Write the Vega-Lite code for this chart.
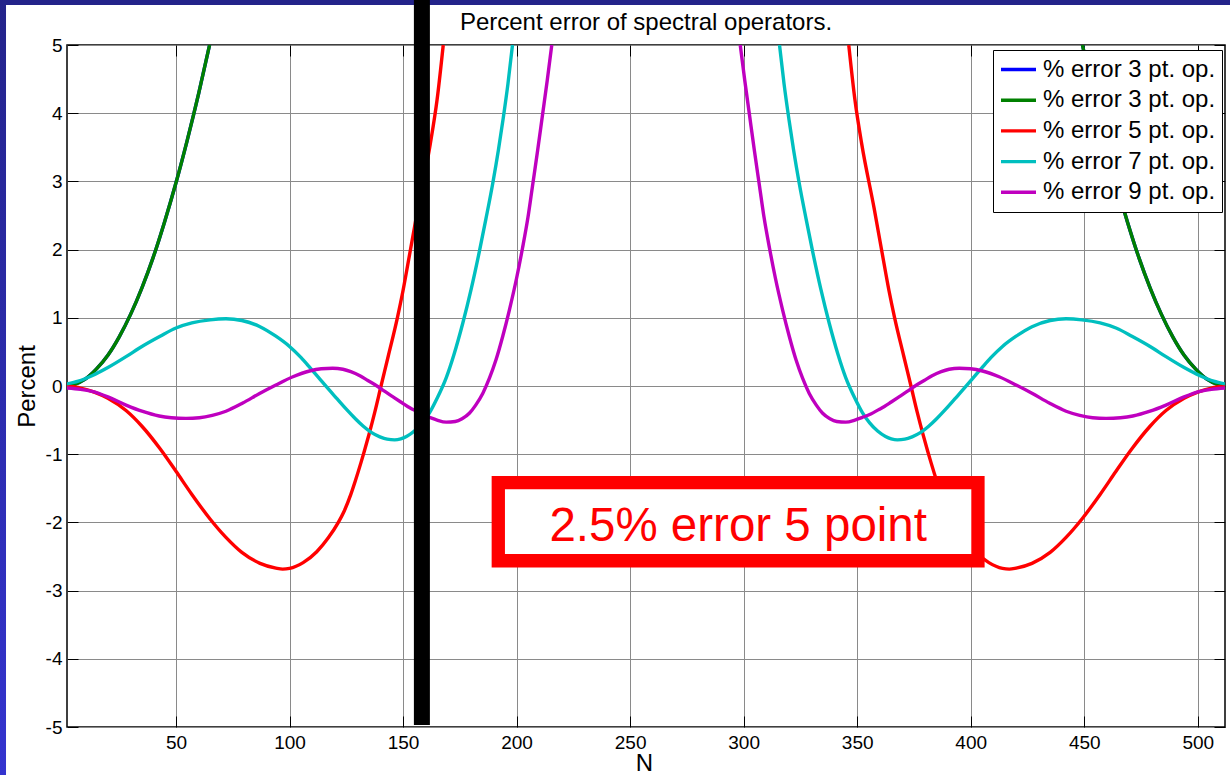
{
"$schema":"https://vega.github.io/schema/vega-lite/v6.json",
"width":1158,"height":682,
"autosize":{"type":"none"},
"padding":{"left":67,"top":45,"right":5,"bottom":48},
"background":"white",
"config":{"view":{"stroke":"black","strokeWidth":1.5},"font":"Liberation Sans"},
"datasets":{
"curves":[
{"s":"a","p":"L","n":2,"v":0},{"s":"a","p":"L","n":5,"v":0.02},{"s":"a","p":"L","n":10,"v":0.1},{"s":"a","p":"L","n":15,"v":0.25},{"s":"a","p":"L","n":20,"v":0.45},{"s":"a","p":"L","n":25,"v":0.72},{"s":"a","p":"L","n":30,"v":1.05},{"s":"a","p":"L","n":35,"v":1.44},{"s":"a","p":"L","n":40,"v":1.89},{"s":"a","p":"L","n":45,"v":2.41},{"s":"a","p":"L","n":50,"v":2.98},{"s":"a","p":"L","n":55,"v":3.61},{"s":"a","p":"L","n":60,"v":4.29},{"s":"a","p":"L","n":64.8,"v":5},
{"s":"a","p":"R","n":512,"v":0},{"s":"a","p":"R","n":509,"v":0.02},{"s":"a","p":"R","n":504,"v":0.1},{"s":"a","p":"R","n":499,"v":0.25},{"s":"a","p":"R","n":494,"v":0.45},{"s":"a","p":"R","n":489,"v":0.72},{"s":"a","p":"R","n":484,"v":1.05},{"s":"a","p":"R","n":479,"v":1.44},{"s":"a","p":"R","n":474,"v":1.89},{"s":"a","p":"R","n":469,"v":2.41},{"s":"a","p":"R","n":464,"v":2.98},{"s":"a","p":"R","n":459,"v":3.61},{"s":"a","p":"R","n":454,"v":4.29},{"s":"a","p":"R","n":449.2,"v":5},
{"s":"b","p":"L","n":2,"v":0},{"s":"b","p":"L","n":5,"v":0.02},{"s":"b","p":"L","n":10,"v":0.1},{"s":"b","p":"L","n":15,"v":0.25},{"s":"b","p":"L","n":20,"v":0.45},{"s":"b","p":"L","n":25,"v":0.72},{"s":"b","p":"L","n":30,"v":1.05},{"s":"b","p":"L","n":35,"v":1.44},{"s":"b","p":"L","n":40,"v":1.89},{"s":"b","p":"L","n":45,"v":2.41},{"s":"b","p":"L","n":50,"v":2.98},{"s":"b","p":"L","n":55,"v":3.61},{"s":"b","p":"L","n":60,"v":4.29},{"s":"b","p":"L","n":64.8,"v":5},
{"s":"b","p":"R","n":512,"v":0},{"s":"b","p":"R","n":509,"v":0.02},{"s":"b","p":"R","n":504,"v":0.1},{"s":"b","p":"R","n":499,"v":0.25},{"s":"b","p":"R","n":494,"v":0.45},{"s":"b","p":"R","n":489,"v":0.72},{"s":"b","p":"R","n":484,"v":1.05},{"s":"b","p":"R","n":479,"v":1.44},{"s":"b","p":"R","n":474,"v":1.89},{"s":"b","p":"R","n":469,"v":2.41},{"s":"b","p":"R","n":464,"v":2.98},{"s":"b","p":"R","n":459,"v":3.61},{"s":"b","p":"R","n":454,"v":4.29},{"s":"b","p":"R","n":449.2,"v":5},
{"s":"c","p":"L","n":2,"v":0},{"s":"c","p":"L","n":8,"v":-0.03},{"s":"c","p":"L","n":14,"v":-0.09},{"s":"c","p":"L","n":20,"v":-0.18},{"s":"c","p":"L","n":28,"v":-0.36},{"s":"c","p":"L","n":35,"v":-0.59},{"s":"c","p":"L","n":43,"v":-0.92},{"s":"c","p":"L","n":50,"v":-1.25},{"s":"c","p":"L","n":57,"v":-1.59},{"s":"c","p":"L","n":65,"v":-1.95},{"s":"c","p":"L","n":72,"v":-2.22},{"s":"c","p":"L","n":79,"v":-2.44},{"s":"c","p":"L","n":87,"v":-2.6},{"s":"c","p":"L","n":94,"v":-2.67},{"s":"c","p":"L","n":97,"v":-2.685},{"s":"c","p":"L","n":100,"v":-2.675},{"s":"c","p":"L","n":106,"v":-2.59},{"s":"c","p":"L","n":112,"v":-2.43},{"s":"c","p":"L","n":117,"v":-2.23},{"s":"c","p":"L","n":121.5,"v":-2},{"s":"c","p":"L","n":124,"v":-1.84},{"s":"c","p":"L","n":127,"v":-1.59},{"s":"c","p":"L","n":129,"v":-1.39},{"s":"c","p":"L","n":131.5,"v":-1.12},{"s":"c","p":"L","n":133,"v":-0.95},{"s":"c","p":"L","n":135,"v":-0.71},{"s":"c","p":"L","n":137.5,"v":-0.39},{"s":"c","p":"L","n":140.3,"v":0},{"s":"c","p":"L","n":143.5,"v":0.44},{"s":"c","p":"L","n":147.5,"v":1},{"s":"c","p":"L","n":150,"v":1.4},{"s":"c","p":"L","n":153,"v":1.95},{"s":"c","p":"L","n":156.5,"v":2.6},{"s":"c","p":"L","n":162,"v":3.55},{"s":"c","p":"L","n":165,"v":4.2},{"s":"c","p":"L","n":167.7,"v":5},
{"s":"c","p":"R","n":512,"v":0},{"s":"c","p":"R","n":506,"v":-0.03},{"s":"c","p":"R","n":500,"v":-0.09},{"s":"c","p":"R","n":494,"v":-0.18},{"s":"c","p":"R","n":486,"v":-0.36},{"s":"c","p":"R","n":479,"v":-0.59},{"s":"c","p":"R","n":471,"v":-0.92},{"s":"c","p":"R","n":464,"v":-1.25},{"s":"c","p":"R","n":457,"v":-1.59},{"s":"c","p":"R","n":449,"v":-1.95},{"s":"c","p":"R","n":442,"v":-2.22},{"s":"c","p":"R","n":435,"v":-2.44},{"s":"c","p":"R","n":427,"v":-2.6},{"s":"c","p":"R","n":420,"v":-2.67},{"s":"c","p":"R","n":417,"v":-2.685},{"s":"c","p":"R","n":414,"v":-2.675},{"s":"c","p":"R","n":408,"v":-2.59},{"s":"c","p":"R","n":402,"v":-2.43},{"s":"c","p":"R","n":397,"v":-2.23},{"s":"c","p":"R","n":392.5,"v":-2},{"s":"c","p":"R","n":390,"v":-1.84},{"s":"c","p":"R","n":387,"v":-1.59},{"s":"c","p":"R","n":385,"v":-1.39},{"s":"c","p":"R","n":382.5,"v":-1.12},{"s":"c","p":"R","n":381,"v":-0.95},{"s":"c","p":"R","n":379,"v":-0.71},{"s":"c","p":"R","n":376.5,"v":-0.39},{"s":"c","p":"R","n":373.7,"v":0},{"s":"c","p":"R","n":370.5,"v":0.44},{"s":"c","p":"R","n":366.5,"v":1},{"s":"c","p":"R","n":364,"v":1.4},{"s":"c","p":"R","n":361,"v":1.95},{"s":"c","p":"R","n":357.5,"v":2.6},{"s":"c","p":"R","n":352,"v":3.55},{"s":"c","p":"R","n":349,"v":4.2},{"s":"c","p":"R","n":346.3,"v":5},
{"s":"d","p":"L","n":2,"v":0.03},{"s":"d","p":"L","n":7,"v":0.07},{"s":"d","p":"L","n":13,"v":0.15},{"s":"d","p":"L","n":20,"v":0.27},{"s":"d","p":"L","n":28,"v":0.43},{"s":"d","p":"L","n":35,"v":0.58},{"s":"d","p":"L","n":43,"v":0.73},{"s":"d","p":"L","n":50,"v":0.85},{"s":"d","p":"L","n":57,"v":0.925},{"s":"d","p":"L","n":65,"v":0.97},{"s":"d","p":"L","n":72,"v":0.985},{"s":"d","p":"L","n":79,"v":0.96},{"s":"d","p":"L","n":87,"v":0.87},{"s":"d","p":"L","n":94,"v":0.73},{"s":"d","p":"L","n":100,"v":0.58},{"s":"d","p":"L","n":105,"v":0.42},{"s":"d","p":"L","n":109,"v":0.27},{"s":"d","p":"L","n":113,"v":0.115},{"s":"d","p":"L","n":117,"v":-0.04},{"s":"d","p":"L","n":121,"v":-0.19},{"s":"d","p":"L","n":125,"v":-0.34},{"s":"d","p":"L","n":129,"v":-0.48},{"s":"d","p":"L","n":132.5,"v":-0.59},{"s":"d","p":"L","n":136,"v":-0.68},{"s":"d","p":"L","n":139.8,"v":-0.745},{"s":"d","p":"L","n":143,"v":-0.78},{"s":"d","p":"L","n":146.3,"v":-0.79},{"s":"d","p":"L","n":149,"v":-0.775},{"s":"d","p":"L","n":151.5,"v":-0.74},{"s":"d","p":"L","n":155,"v":-0.66},{"s":"d","p":"L","n":158.5,"v":-0.54},{"s":"d","p":"L","n":161.7,"v":-0.39},{"s":"d","p":"L","n":165,"v":-0.18},{"s":"d","p":"L","n":169,"v":0.12},{"s":"d","p":"L","n":172.5,"v":0.47},{"s":"d","p":"L","n":176.3,"v":0.92},{"s":"d","p":"L","n":180,"v":1.42},{"s":"d","p":"L","n":183.6,"v":1.97},{"s":"d","p":"L","n":186.5,"v":2.45},{"s":"d","p":"L","n":189.5,"v":2.97},{"s":"d","p":"L","n":192,"v":3.46},{"s":"d","p":"L","n":194,"v":3.9},{"s":"d","p":"L","n":196.2,"v":4.43},{"s":"d","p":"L","n":198.2,"v":5},
{"s":"d","p":"R","n":512,"v":0.03},{"s":"d","p":"R","n":507,"v":0.07},{"s":"d","p":"R","n":501,"v":0.15},{"s":"d","p":"R","n":494,"v":0.27},{"s":"d","p":"R","n":486,"v":0.43},{"s":"d","p":"R","n":479,"v":0.58},{"s":"d","p":"R","n":471,"v":0.73},{"s":"d","p":"R","n":464,"v":0.85},{"s":"d","p":"R","n":457,"v":0.925},{"s":"d","p":"R","n":449,"v":0.97},{"s":"d","p":"R","n":442,"v":0.985},{"s":"d","p":"R","n":435,"v":0.96},{"s":"d","p":"R","n":427,"v":0.87},{"s":"d","p":"R","n":420,"v":0.73},{"s":"d","p":"R","n":414,"v":0.58},{"s":"d","p":"R","n":409,"v":0.42},{"s":"d","p":"R","n":405,"v":0.27},{"s":"d","p":"R","n":401,"v":0.115},{"s":"d","p":"R","n":397,"v":-0.04},{"s":"d","p":"R","n":393,"v":-0.19},{"s":"d","p":"R","n":389,"v":-0.34},{"s":"d","p":"R","n":385,"v":-0.48},{"s":"d","p":"R","n":381.5,"v":-0.59},{"s":"d","p":"R","n":378,"v":-0.68},{"s":"d","p":"R","n":374.2,"v":-0.745},{"s":"d","p":"R","n":371,"v":-0.78},{"s":"d","p":"R","n":367.7,"v":-0.79},{"s":"d","p":"R","n":365,"v":-0.775},{"s":"d","p":"R","n":362.5,"v":-0.74},{"s":"d","p":"R","n":359,"v":-0.66},{"s":"d","p":"R","n":355.5,"v":-0.54},{"s":"d","p":"R","n":352.3,"v":-0.39},{"s":"d","p":"R","n":349,"v":-0.18},{"s":"d","p":"R","n":345,"v":0.12},{"s":"d","p":"R","n":341.5,"v":0.47},{"s":"d","p":"R","n":337.7,"v":0.92},{"s":"d","p":"R","n":334,"v":1.42},{"s":"d","p":"R","n":330.4,"v":1.97},{"s":"d","p":"R","n":327.5,"v":2.45},{"s":"d","p":"R","n":324.5,"v":2.97},{"s":"d","p":"R","n":322,"v":3.46},{"s":"d","p":"R","n":320,"v":3.9},{"s":"d","p":"R","n":317.8,"v":4.43},{"s":"d","p":"R","n":315.8,"v":5},
{"s":"e","p":"L","n":2,"v":-0.03},{"s":"e","p":"L","n":8,"v":-0.05},{"s":"e","p":"L","n":13,"v":-0.08},{"s":"e","p":"L","n":20,"v":-0.16},{"s":"e","p":"L","n":28,"v":-0.28},{"s":"e","p":"L","n":35,"v":-0.37},{"s":"e","p":"L","n":42.6,"v":-0.44},{"s":"e","p":"L","n":48,"v":-0.465},{"s":"e","p":"L","n":54.4,"v":-0.475},{"s":"e","p":"L","n":60.3,"v":-0.465},{"s":"e","p":"L","n":66,"v":-0.43},{"s":"e","p":"L","n":72,"v":-0.37},{"s":"e","p":"L","n":79.4,"v":-0.25},{"s":"e","p":"L","n":86.8,"v":-0.11},{"s":"e","p":"L","n":94,"v":0.015},{"s":"e","p":"L","n":101.5,"v":0.135},{"s":"e","p":"L","n":108.8,"v":0.22},{"s":"e","p":"L","n":114,"v":0.252},{"s":"e","p":"L","n":119,"v":0.26},{"s":"e","p":"L","n":123.5,"v":0.245},{"s":"e","p":"L","n":127,"v":0.21},{"s":"e","p":"L","n":131,"v":0.15},{"s":"e","p":"L","n":134.5,"v":0.08},{"s":"e","p":"L","n":138.5,"v":0},{"s":"e","p":"L","n":142,"v":-0.08},{"s":"e","p":"L","n":145.6,"v":-0.16},{"s":"e","p":"L","n":149,"v":-0.235},{"s":"e","p":"L","n":152,"v":-0.3},{"s":"e","p":"L","n":154.7,"v":-0.35},{"s":"e","p":"L","n":158,"v":-0.41},{"s":"e","p":"L","n":161.7,"v":-0.46},{"s":"e","p":"L","n":165,"v":-0.5},{"s":"e","p":"L","n":169,"v":-0.53},{"s":"e","p":"L","n":173,"v":-0.52},{"s":"e","p":"L","n":176,"v":-0.48},{"s":"e","p":"L","n":179.2,"v":-0.4},{"s":"e","p":"L","n":182,"v":-0.28},{"s":"e","p":"L","n":185.1,"v":-0.11},{"s":"e","p":"L","n":188,"v":0.11},{"s":"e","p":"L","n":190.9,"v":0.38},{"s":"e","p":"L","n":194,"v":0.74},{"s":"e","p":"L","n":196.8,"v":1.11},{"s":"e","p":"L","n":200,"v":1.58},{"s":"e","p":"L","n":202.6,"v":2.02},{"s":"e","p":"L","n":205,"v":2.47},{"s":"e","p":"L","n":207,"v":2.93},{"s":"e","p":"L","n":209.3,"v":3.46},{"s":"e","p":"L","n":211.4,"v":3.97},{"s":"e","p":"L","n":213.5,"v":4.48},{"s":"e","p":"L","n":215.5,"v":5},
{"s":"e","p":"R","n":512,"v":-0.03},{"s":"e","p":"R","n":506,"v":-0.05},{"s":"e","p":"R","n":501,"v":-0.08},{"s":"e","p":"R","n":494,"v":-0.16},{"s":"e","p":"R","n":486,"v":-0.28},{"s":"e","p":"R","n":479,"v":-0.37},{"s":"e","p":"R","n":471.4,"v":-0.44},{"s":"e","p":"R","n":466,"v":-0.465},{"s":"e","p":"R","n":459.6,"v":-0.475},{"s":"e","p":"R","n":453.7,"v":-0.465},{"s":"e","p":"R","n":448,"v":-0.43},{"s":"e","p":"R","n":442,"v":-0.37},{"s":"e","p":"R","n":434.6,"v":-0.25},{"s":"e","p":"R","n":427.2,"v":-0.11},{"s":"e","p":"R","n":420,"v":0.015},{"s":"e","p":"R","n":412.5,"v":0.135},{"s":"e","p":"R","n":405.2,"v":0.22},{"s":"e","p":"R","n":400,"v":0.252},{"s":"e","p":"R","n":395,"v":0.26},{"s":"e","p":"R","n":390.5,"v":0.245},{"s":"e","p":"R","n":387,"v":0.21},{"s":"e","p":"R","n":383,"v":0.15},{"s":"e","p":"R","n":379.5,"v":0.08},{"s":"e","p":"R","n":375.5,"v":0},{"s":"e","p":"R","n":372,"v":-0.08},{"s":"e","p":"R","n":368.4,"v":-0.16},{"s":"e","p":"R","n":365,"v":-0.235},{"s":"e","p":"R","n":362,"v":-0.3},{"s":"e","p":"R","n":359.3,"v":-0.35},{"s":"e","p":"R","n":356,"v":-0.41},{"s":"e","p":"R","n":352.3,"v":-0.46},{"s":"e","p":"R","n":349,"v":-0.5},{"s":"e","p":"R","n":345,"v":-0.53},{"s":"e","p":"R","n":341,"v":-0.52},{"s":"e","p":"R","n":338,"v":-0.48},{"s":"e","p":"R","n":334.8,"v":-0.4},{"s":"e","p":"R","n":332,"v":-0.28},{"s":"e","p":"R","n":328.9,"v":-0.11},{"s":"e","p":"R","n":326,"v":0.11},{"s":"e","p":"R","n":323.1,"v":0.38},{"s":"e","p":"R","n":320,"v":0.74},{"s":"e","p":"R","n":317.2,"v":1.11},{"s":"e","p":"R","n":314,"v":1.58},{"s":"e","p":"R","n":311.4,"v":2.02},{"s":"e","p":"R","n":309,"v":2.47},{"s":"e","p":"R","n":307,"v":2.93},{"s":"e","p":"R","n":304.7,"v":3.46},{"s":"e","p":"R","n":302.6,"v":3.97},{"s":"e","p":"R","n":300.5,"v":4.48},{"s":"e","p":"R","n":298.5,"v":5}
]
},
"layer":[
{"data":{"values":[{"x1":-28,"x2":515,"y1":5.7,"y2":5.587}]},
 "mark":{"type":"rect","color":"#23238a","clip":false},
 "encoding":{"x":{"field":"x1","type":"quantitative","axis":null},"x2":{"field":"x2"},"y":{"field":"y1","type":"quantitative","axis":null},"y2":{"field":"y2"}}},
{"data":{"values":[{"x1":-28,"x2":-24.86,"y1":5.7,"y2":-5.8}]},
 "mark":{"type":"rect","clip":false,"color":{"gradient":"linear","x1":0,"y1":0,"x2":0,"y2":1,"stops":[{"offset":0,"color":"#23238a"},{"offset":1,"color":"#3434d0"}]}},
 "encoding":{"x":{"field":"x1","type":"quantitative","axis":null},"x2":{"field":"x2"},"y":{"field":"y1","type":"quantitative","axis":null},"y2":{"field":"y2"}}},
{"data":{"values":[{"n":257,"v":5.22,"t":"Percent error of spectral operators."}]},
 "mark":{"type":"text","font":"Liberation Sans","fontSize":24,"color":"black","align":"center","baseline":"alphabetic","clip":false},
 "encoding":{"x":{"field":"n","type":"quantitative","axis":null},"y":{"field":"v","type":"quantitative","axis":null},"text":{"field":"t"}}},
{"data":{"name":"curves"},
 "mark":{"type":"line","strokeWidth":3.4,"clip":true,"interpolate":"monotone"},
 "encoding":{
  "x":{"field":"n","type":"quantitative","scale":{"domain":[2,512],"nice":false,"zero":false},
   "axis":{"values":[50,100,150,200,250,300,350,400,450,500],"title":"N","titleFontSize":24,"titleFont":"Liberation Sans","titleFontWeight":"normal","titleColor":"black","titleX":577,"titleY":43,"titleBaseline":"alphabetic","titleAlign":"center","labelFontSize":19,"labelFont":"Liberation Sans","labelColor":"black","labelPadding":17,"tickSize":-11,"tickColor":"black","grid":true,"gridColor":"#8a8a8a","gridWidth":1,"domain":false,"labelFlush":false,"labelOverlap":false}},
  "y":{"field":"v","type":"quantitative","scale":{"domain":[-5,5],"nice":false,"zero":false},
   "axis":{"values":[-5,-4,-3,-2,-1,0,1,2,3,4,5],"labelExpr":"'' + datum.value","title":"Percent","titleFontSize":24,"titleFont":"Liberation Sans","titleFontWeight":"normal","titleColor":"black","titleAngle":-90,"titleX":-33,"titleY":341,"titleBaseline":"alphabetic","titleAlign":"center","labelFontSize":19,"labelFont":"Liberation Sans","labelColor":"black","labelPadding":16,"tickSize":-11,"tickColor":"black","grid":true,"gridColor":"#8a8a8a","gridWidth":1,"domain":false,"labelFlush":false,"labelOverlap":false}},
  "color":{"field":"s","type":"nominal","scale":{"domain":["a","b","c","d","e"],"range":["#0000ff","#008000","#ff0000","#00bfbf","#bf00bf"]},
   "legend":{"orient":"none","legendX":926,"legendY":5,"title":null,"labelExpr":"'% error ' + (datum.label == 'a' || datum.label == 'b' ? '3' : datum.label == 'c' ? '5' : datum.label == 'd' ? '7' : '9') + ' pt. op.'","symbolType":"stroke","symbolSize":1225,"symbolStrokeWidth":3.4,"labelFontSize":24,"labelFont":"Liberation Sans","labelColor":"black","labelOffset":5,"clipHeight":27,"rowPadding":3.7,"padding":6,"strokeColor":"black","fillColor":"white","labelLimit":400}},
  "detail":{"field":"p","type":"nominal"}
 }},
{"data":{"values":[{"x1":191.95,"x2":403.2,"y1":-1.418,"y2":-2.562}]},
 "mark":{"type":"rect","fill":"white","stroke":"#ff0000","strokeWidth":13.3,"clip":false},
 "encoding":{"x":{"field":"x1","type":"quantitative","axis":{"orient":"top","labels":false,"title":null,"values":[50,100,150,200,250,300,350,400,450,500],"tickSize":-11,"tickColor":"black","grid":false,"domain":false}},"x2":{"field":"x2"},
  "y":{"field":"y1","type":"quantitative","axis":{"orient":"right","labels":false,"title":null,"values":[-5,-4,-3,-2,-1,0,1,2,3,4,5],"tickSize":-11,"tickColor":"black","grid":false,"domain":false}},"y2":{"field":"y2"}}},
{"data":{"values":[{"n":297.6,"v":-2.268,"t":"2.5% error 5 point"}]},
 "mark":{"type":"text","font":"Liberation Sans","fontSize":47.5,"color":"#ff0000","align":"center","baseline":"alphabetic","clip":false},
 "encoding":{"x":{"field":"n","type":"quantitative","axis":null},"y":{"field":"v","type":"quantitative","axis":null},"text":{"field":"t"}}},
{"data":{"values":[{"n":158.3,"y1":5.7,"y2":-4.97}]},
 "mark":{"type":"rule","color":"black","strokeWidth":16,"strokeCap":"butt","clip":false},
 "encoding":{"x":{"field":"n","type":"quantitative","axis":null},"y":{"field":"y1","type":"quantitative","axis":null},"y2":{"field":"y2"}}}
],
"resolve":{"axis":{"x":"independent","y":"independent"}}
}
